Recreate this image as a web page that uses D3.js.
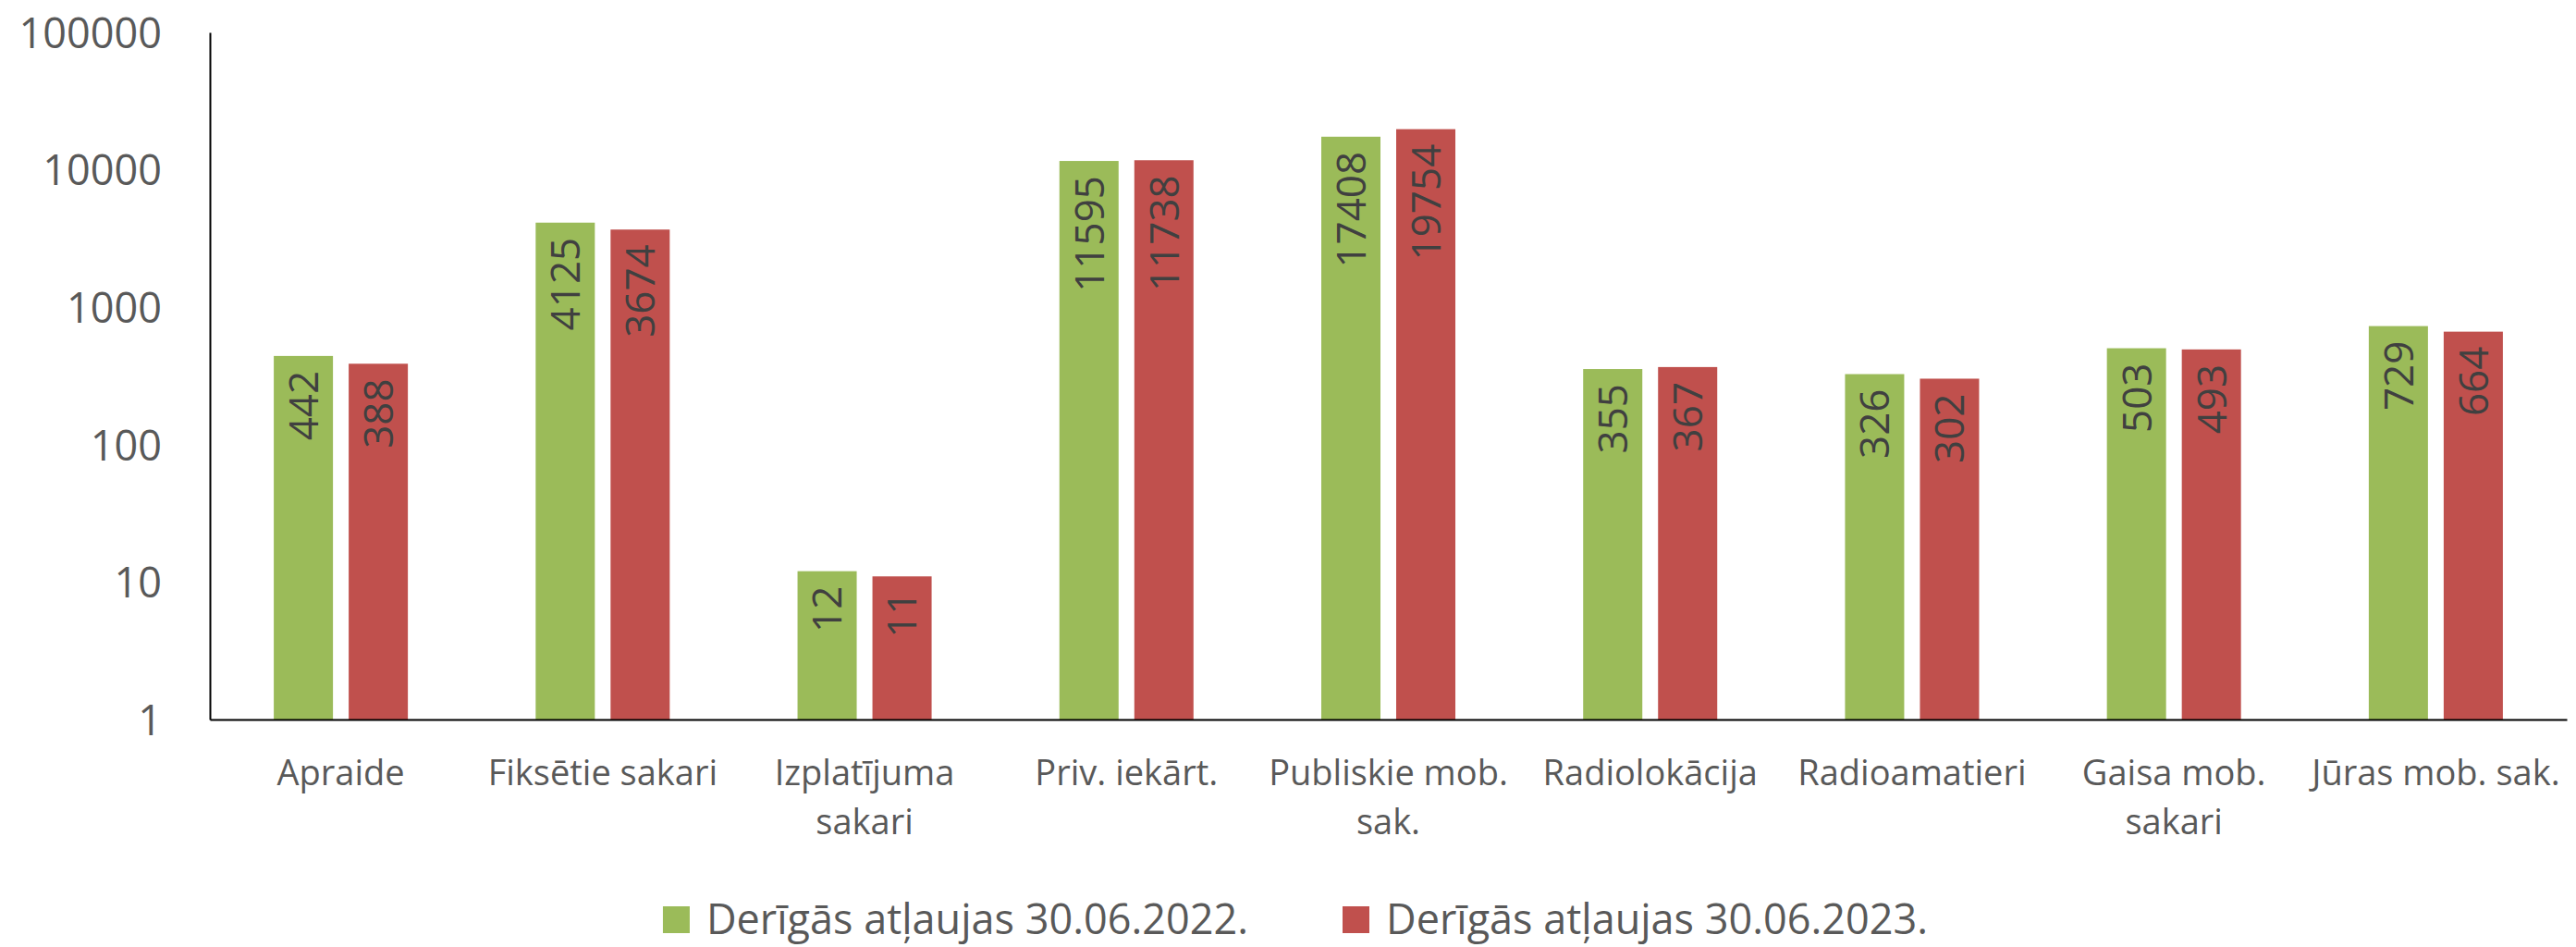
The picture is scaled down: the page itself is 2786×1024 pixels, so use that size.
<!DOCTYPE html>
<html><head><meta charset="utf-8">
<script src="https://cdn.jsdelivr.net/npm/d3@7"></script>
<style>
body{margin:0;background:#fff}
text{font-family:"Open Sans","Noto Sans",sans-serif}
</style>
</head><body>
<svg id="chart" width="2786" height="1024"></svg>
<script>
const categories = ["Apraide", "Fiksētie sakari", "Izplatījuma sakari", "Priv. iekārt.", "Publiskie mob. sak.", "Radiolokācija", "Radioamatieri", "Gaisa mob. sakari", "Jūras mob. sak."];
const seriesNames = ["Derīgās atļaujas 30.06.2022.", "Derīgās atļaujas 30.06.2023."];
const values2022 = [442, 4125, 12, 11595, 17408, 355, 326, 503, 729];
const values2023 = [388, 3674, 11, 11738, 19754, 367, 302, 493, 664];
const yTickValues = [1, 10, 100, 1000, 10000, 100000];
const seriesColors = ["#9BBB59", "#C0504D"];

const W = 2786, H = 1024;
const plot = {left: 227, right: 2776, top: 35, bottom: 778};
const svg = d3.select("#chart");

const x0 = d3.scaleBand().domain(categories).range([plot.left, plot.right]).paddingInner(0).paddingOuter(0);
const x1 = d3.scaleBand().domain(seriesNames).range([0, x0.bandwidth()]).paddingInner(0.21).paddingOuter(0.853);
const y = d3.scaleLog().domain([1, 100000]).range([plot.bottom, plot.top]);
const color = d3.scaleOrdinal().domain(seriesNames).range(seriesColors);

const rows = categories.map((c, i) => ({cat: c, vals: [
  {s: seriesNames[0], v: values2022[i]},
  {s: seriesNames[1], v: values2023[i]}
]}));

// bars
const groups = svg.append("g").selectAll("g").data(rows).join("g")
  .attr("transform", d => `translate(${x0(d.cat)},0)`);
groups.selectAll("rect").data(d => d.vals).join("rect")
  .attr("x", d => x1(d.s))
  .attr("y", d => y(d.v))
  .attr("width", x1.bandwidth())
  .attr("height", d => plot.bottom - y(d.v))
  .attr("fill", d => color(d.s));

// bar value labels (rotated)
groups.selectAll("text.val").data(d => d.vals).join("text")
  .attr("class", "val")
  .attr("transform", d => `translate(${x1(d.s) + x1.bandwidth() / 2},${y(d.v) + 16}) rotate(-90)`)
  .attr("text-anchor", "end")
  .attr("dy", "0.36em")
  .attr("fill", "#404040")
  .style("font-size", "44px")
  .text(d => d.v);

// y axis
const yAxis = svg.append("g").attr("transform", `translate(${plot.left},0)`)
  .call(d3.axisLeft(y).tickValues(yTickValues).tickFormat(d3.format("d")).tickSize(0).tickSizeOuter(0).tickPadding(52));
yAxis.select(".domain").attr("stroke", "#000").attr("stroke-width", 2);
yAxis.selectAll("text").attr("fill", "#595959").style("font-size", "45px").attr("dy", "0.36em");

// x axis
const xAxis = svg.append("g").attr("transform", `translate(0,${plot.bottom})`)
  .call(d3.axisBottom(x0).tickSize(0).tickSizeOuter(0).tickPadding(44));
xAxis.select(".domain").attr("stroke", "#000").attr("stroke-width", 2);
xAxis.selectAll("text").attr("fill", "#595959").style("font-size", "38px");

function wrap(sel, width, lh) {
  sel.each(function() {
    const t = d3.select(this);
    const words = t.text().split(/\s+/);
    const yy = t.attr("y"), dy = parseFloat(t.attr("dy")) || 0;
    t.text(null);
    let line = [], n = 0;
    let ts = t.append("tspan").attr("x", 0).attr("y", yy).attr("dy", dy + "em");
    for (const w of words) {
      line.push(w);
      ts.text(line.join(" "));
      if (ts.node().getComputedTextLength() > width && line.length > 1) {
        line.pop();
        ts.text(line.join(" "));
        line = [w];
        n++;
        ts = t.append("tspan").attr("x", 0).attr("y", yy).attr("dy", (n * lh + dy) + "em").text(w);
      }
    }
  });
}
xAxis.selectAll(".tick text").call(wrap, x0.step() - 4, 1.395);

// legend
const legend = svg.append("g");
let lx = 0;
seriesNames.forEach((s, i) => {
  const g = legend.append("g").attr("transform", `translate(${lx},0)`);
  g.append("rect").attr("x", 0).attr("y", 980).attr("width", 29).attr("height", 29).attr("fill", seriesColors[i]);
  const t = g.append("text").attr("x", 47).attr("y", 1010).attr("fill", "#595959").style("font-size", "45px").text(s);
  lx += 47 + t.node().getComputedTextLength() + 102;
});
const lw = lx - 102;
legend.attr("transform", `translate(${W / 2 - lw / 2 + 8},0)`);
</script>
</body></html>
